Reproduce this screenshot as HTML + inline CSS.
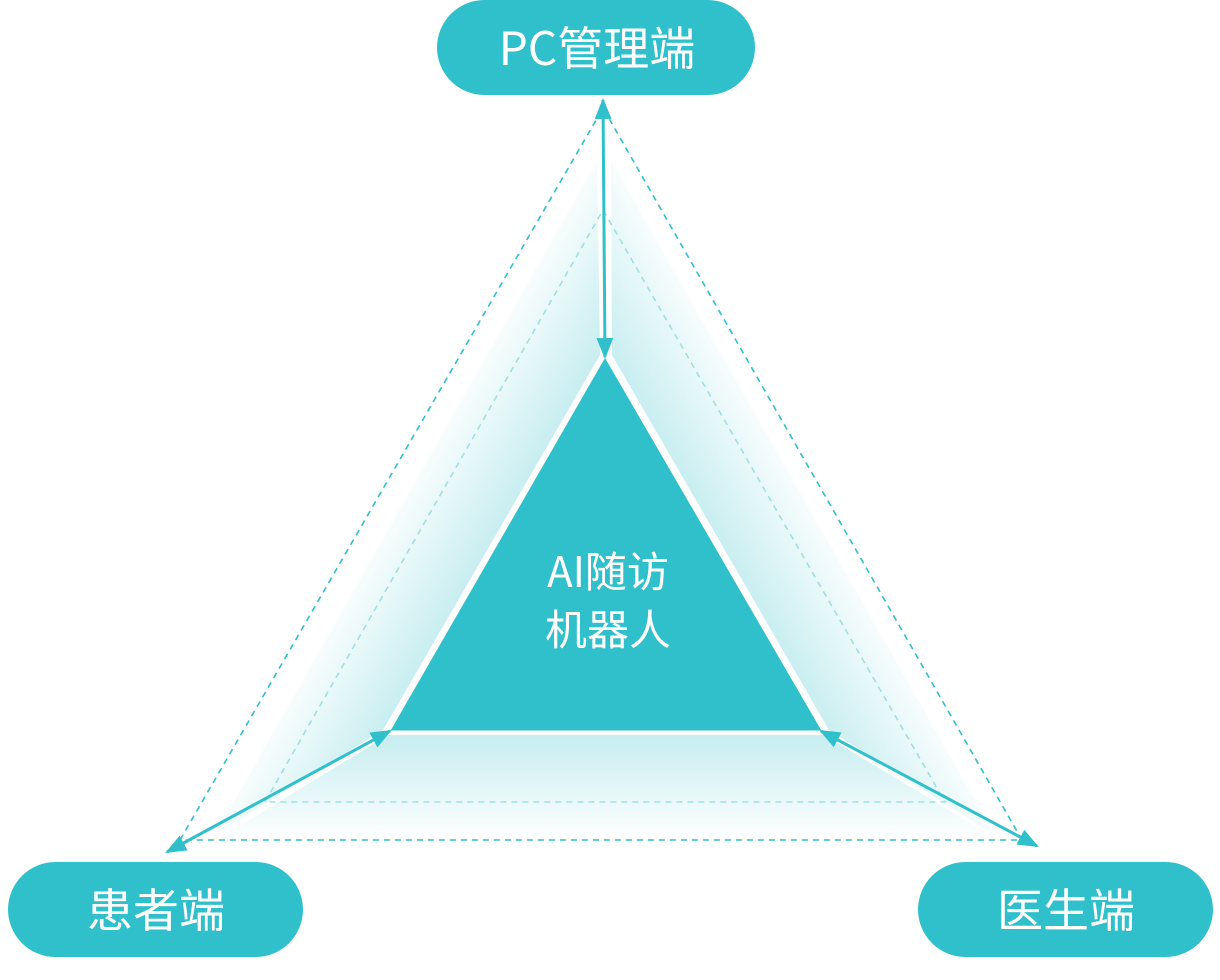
<!DOCTYPE html>
<html><head><meta charset="utf-8"><style>
html,body{margin:0;padding:0;background:#fff;width:1220px;height:980px;overflow:hidden}
svg{display:block}
text{font-family:"Noto Sans CJK SC","Liberation Sans",sans-serif;fill:#fff}
</style></head><body>
<svg width="1220" height="980" viewBox="0 0 1220 980" xmlns="http://www.w3.org/2000/svg">
<defs>
<linearGradient id="gl" gradientUnits="userSpaceOnUse" x1="495" y1="545" x2="395" y2="488">
<stop offset="0" stop-color="#c6edf0"/><stop offset="1" stop-color="#fff"/></linearGradient>
<linearGradient id="gr" gradientUnits="userSpaceOnUse" x1="715" y1="545" x2="815" y2="488">
<stop offset="0" stop-color="#c6edf0"/><stop offset="1" stop-color="#fff"/></linearGradient>
<linearGradient id="gb" gradientUnits="userSpaceOnUse" x1="0" y1="735" x2="0" y2="840">
<stop offset="0" stop-color="#c6edf0"/><stop offset="1" stop-color="#fff"/></linearGradient>
<marker id="ah" viewBox="0 0 10 10" refX="9" refY="5" markerWidth="7" markerHeight="7" orient="auto-start-reverse" markerUnits="strokeWidth">
<path d="M0,1 L10,5 L0,9 z" fill="#2fc0cb"/></marker>
</defs>
<polygon points="597,160 600,355 383,730 215,835" fill="url(#gl)"/>
<polygon points="611,160 612,355 829,730 995,835" fill="url(#gr)"/>
<polygon points="388,735 824,735 995,838 220,838" fill="url(#gb)"/>
<g fill="none" stroke-width="1.6" stroke-dasharray="6,5">
<polyline points="180,840 603,108 1022,840 180,840" stroke="#2fc0cb"/>
<polyline points="265,802 603,210 945,802 265,802" stroke="#9fdfe4"/>
</g>
<polygon points="605,355 388,732 824,732" fill="#2fc0cb" stroke="#fff" stroke-width="3"/>
<g stroke="#2fc0cb" stroke-width="3" fill="none">
<line x1="603" y1="100" x2="605" y2="357" marker-start="url(#ah)" marker-end="url(#ah)"/>
<line x1="390" y1="731" x2="167" y2="852" marker-start="url(#ah)" marker-end="url(#ah)"/>
<line x1="821" y1="731" x2="1037" y2="846" marker-start="url(#ah)" marker-end="url(#ah)"/>
</g>
<rect x="437" y="0" width="318" height="95" rx="47.5" fill="#2fc0cb"/>
<rect x="8" y="862" width="295" height="95" rx="47.5" fill="#2fc0cb"/>
<rect x="918" y="862" width="295" height="95" rx="47.5" fill="#2fc0cb"/>
<text x="597" y="65" font-size="46" text-anchor="middle">PC管理端</text>
<text x="156" y="927" font-size="46" text-anchor="middle">患者端</text>
<text x="1066" y="927" font-size="46" text-anchor="middle">医生端</text>
<text x="608" y="587" font-size="42" text-anchor="middle">AI随访</text>
<text x="608" y="645" font-size="42" text-anchor="middle">机器人</text>
</svg>
</body></html>
